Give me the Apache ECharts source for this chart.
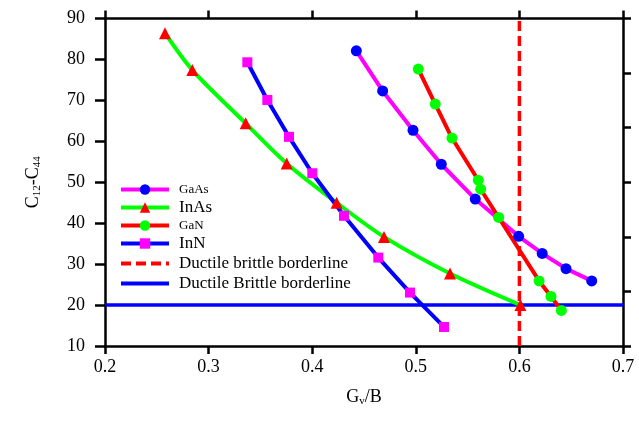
<!DOCTYPE html>
<html>
<head>
<meta charset="utf-8">
<script src="https://cdn.jsdelivr.net/npm/echarts@6/dist/echarts.min.js"></script>
<style>html,body{margin:0;padding:0;background:#fff}#c{width:639px;height:432px}</style>
</head>
<body>
<div id="c"></div>
<script>
// ---- data ----
const gaasX = [0.4426, 0.468, 0.4973, 0.5246, 0.5574, 0.5993, 0.622, 0.645, 0.6698];
const gaasY = [82.1, 72.3, 62.7, 54.4, 45.9, 36.8, 32.6, 28.9, 25.9];
const inasX = [0.2579, 0.2843, 0.3358, 0.3754, 0.4236, 0.4693, 0.533, 0.601];
const inasY = [86.4, 77.4, 64.4, 54.6, 45.0, 36.65, 27.7, 20.0];
const ganX = [0.5024, 0.5188, 0.5349, 0.5603, 0.5626, 0.58, 0.619, 0.6305, 0.6405];
const ganY = [77.65, 69.1, 60.8, 50.5, 48.3, 41.4, 25.9, 22.1, 18.7];
const innX = [0.3374, 0.3567, 0.3776, 0.4001, 0.4307, 0.4638, 0.4944, 0.5272];
const innY = [79.3, 70.1, 61.1, 52.2, 41.8, 31.6, 23.05, 14.65];
const borderVX = [0.6, 0.6];
const borderVY = [10, 90];
const borderHX = [0.2, 0.7];
const borderHY = [20, 20];
const xTicks = [0.2, 0.7, 0.1];   // min, max, interval
const yTicks = [10, 90, 10];
const seriesNames = ['GaAs', 'InAs', 'GaN', 'InN', 'Ductile brittle borderline', 'Ductile Brittle borderline'];

const zip = (xs, ys) => xs.map((x, i) => [x, ys[i]]);
const serif = '"Liberation Serif", "Times New Roman", serif';
const axisLineStyle = { color: '#000', width: 2.5 };

const legendData = [
  { name: seriesNames[0], lineStyle: { color: '#ff00ff', width: 4 } },
  { name: seriesNames[1], lineStyle: { color: '#00ff00', width: 4 } },
  { name: seriesNames[2], lineStyle: { color: '#ff0000', width: 4 } },
  { name: seriesNames[3], lineStyle: { color: '#0000ff', width: 4 } },
  { name: seriesNames[4], itemStyle: { color: 'rgba(0,0,0,0)', opacity: 0 },
    lineStyle: { color: '#ff0000', width: 4, type: [10, 5] } },
  { name: seriesNames[5], itemStyle: { color: 'rgba(0,0,0,0)', opacity: 0 },
    lineStyle: { color: '#0000ff', width: 4 } }
];

const chart = echarts.init(document.getElementById('c'));
chart.setOption({
  animation: false,
  backgroundColor: '#fff',
  grid: { left: 105, right: 16, top: 18.5, bottom: 86, containLabel: false },
  legend: {
    orient: 'vertical',
    left: 114,
    top: 178,
    itemWidth: 48,
    itemHeight: 13,
    itemGap: 3,
    data: legendData,
    formatter: n => (n === 'GaAs' || n === 'GaN') ? '{s|' + n + '}' : '{b|' + n + '}',
    textStyle: {
      color: '#000',
      fontFamily: serif,
      rich: {
        s: { fontSize: 13, lineHeight: 14, fontFamily: serif, color: '#000', padding: [0, 0, 0, 5] },
        b: { fontSize: 17, lineHeight: 14, fontFamily: serif, color: '#000', padding: [0, 0, 0, 5] }
      }
    }
  },
  xAxis: [{
    type: 'value', min: xTicks[0], max: xTicks[1], interval: xTicks[2],
    name: 'G{sub|v}/B', nameLocation: 'middle', nameGap: 42,
    nameTextStyle: {
      color: '#000', fontFamily: serif, fontSize: 18,
      rich: { sub: { fontSize: 11, fontFamily: serif, color: '#000', verticalAlign: 'bottom', padding: [8, 0, 0, 0] } }
    },
    axisLine: { show: true, onZero: false, lineStyle: axisLineStyle },
    axisTick: { show: true, inside: false, length: 8, lineStyle: axisLineStyle },
    axisLabel: { color: '#000', fontFamily: serif, fontSize: 18, margin: 12, formatter: v => v.toFixed(1) },
    splitLine: { show: false }
  }, {
    type: 'value', position: 'top', min: xTicks[0], max: xTicks[1], interval: xTicks[2],
    axisLine: { show: true, onZero: false, lineStyle: axisLineStyle },
    axisTick: { show: true, inside: false, length: 8, lineStyle: axisLineStyle },
    axisLabel: { show: false }, splitLine: { show: false }
  }],
  yAxis: [{
    type: 'value', min: yTicks[0], max: yTicks[1], interval: yTicks[2],
    name: 'C{sub|12}-C{sub|44}', nameLocation: 'middle', nameGap: 62, nameRotate: 90,
    nameTextStyle: {
      color: '#000', fontFamily: serif, fontSize: 18,
      rich: { sub: { fontSize: 11, fontFamily: serif, color: '#000', verticalAlign: 'bottom', padding: [8, 0, 0, 0] } }
    },
    axisLine: { show: true, onZero: false, lineStyle: axisLineStyle },
    axisTick: { show: true, inside: false, length: 10, lineStyle: axisLineStyle },
    axisLabel: { color: '#000', fontFamily: serif, fontSize: 18, margin: 20 },
    splitLine: { show: false }
  }, {
    type: 'value', position: 'right', min: 0, max: 6, interval: 1,
    axisLine: { show: true, onZero: false, lineStyle: axisLineStyle },
    axisTick: { show: true, inside: false, length: 8, lineStyle: axisLineStyle },
    axisLabel: { show: false }, splitLine: { show: false }
  }],
  series: [
    {
      name: seriesNames[5], type: 'line', data: zip(borderHX, borderHY), symbol: 'none',
      lineStyle: { color: '#0000ff', width: 3.5 }, itemStyle: { color: '#0000ff' }
    },
    {
      name: seriesNames[4], type: 'line', data: zip(borderVX, borderVY), symbol: 'none',
      lineStyle: { color: '#ff0000', width: 3.5, type: [10, 5] }, itemStyle: { color: '#ff0000' }
    },
    {
      name: seriesNames[0], type: 'line', data: zip(gaasX, gaasY), symbol: 'circle', symbolSize: 11,
      lineStyle: { color: '#ff00ff', width: 4 }, itemStyle: { color: '#0000ff' }
    },
    {
      name: seriesNames[1], type: 'line', data: zip(inasX, inasY), smooth: 0.3, symbol: 'triangle', symbolSize: 12,
      lineStyle: { color: '#00ff00', width: 4 }, itemStyle: { color: '#ff0000' }
    },
    {
      name: seriesNames[2], type: 'line', data: zip(ganX, ganY), symbol: 'circle', symbolSize: 11,
      lineStyle: { color: '#ff0000', width: 4 }, itemStyle: { color: '#00ff00' }
    },
    {
      name: seriesNames[3], type: 'line', data: zip(innX, innY), symbol: 'rect', symbolSize: 10,
      lineStyle: { color: '#0000ff', width: 4 }, itemStyle: { color: '#ff00ff' }
    }
  ]
});
</script>
</body>
</html>
